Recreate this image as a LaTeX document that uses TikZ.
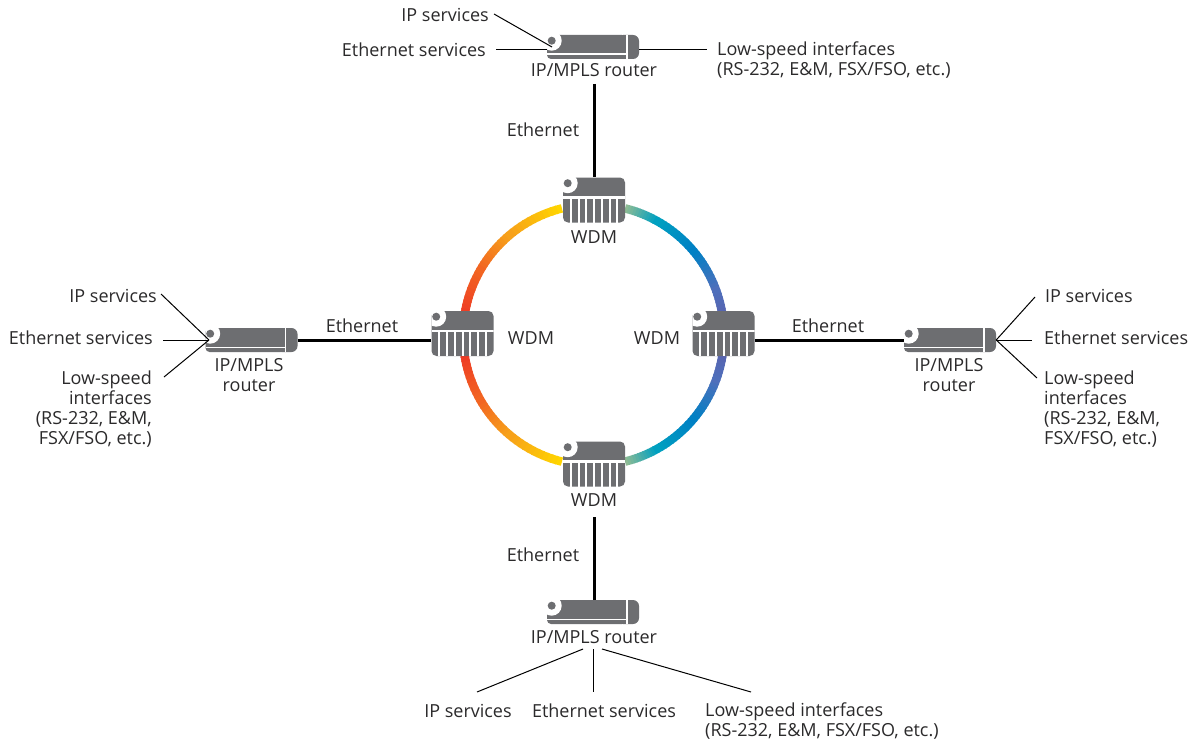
\documentclass[tikz,border=0pt]{standalone}
\usepackage{fontspec}
\setmainfont{Open Sans}
\usetikzlibrary{backgrounds}
\definecolor{icongray}{HTML}{6D6E71}
\definecolor{textgray}{HTML}{2B2A2B}
\definecolor{ringyellow}{HTML}{FFD500}
\definecolor{ringorange}{HTML}{F7A11A}
\definecolor{ringflame}{HTML}{F26522}
\definecolor{ringred}{HTML}{EE3A24}
\definecolor{ringgreen}{HTML}{8DBB94}
\definecolor{ringteal}{HTML}{00A0C0}
\definecolor{ringblue}{HTML}{0080C4}
\definecolor{ringviolet}{HTML}{4F6FBB}
\definecolor{ringpurple}{HTML}{5F5BA8}
\newcommand{\iconmark}[2]{%
	\fill[white] (#1,#2) circle (10pt);
	\fill[icongray] (#1,#2) circle (4pt);
}

\begin{document}
\begin{tikzpicture}[x=1pt,y=-1pt]
	% `routericon' and `wdmicon' are painted inside plain white nodes.
	% `lbl' is used for every text, `fibre' for the thick links.
	\tikzstyle{lbl} = [inner sep=1pt,text=textgray,font=\fontsize{18}{20}\selectfont]
	\tikzstyle{routericon} = [fill=white,inner sep=0pt,minimum width=92pt,minimum height=24pt,path picture={
		\fill[icongray,rounded corners=4pt] (-46pt,12pt) rectangle (33pt,-12pt);
		\fill[icongray,rounded corners=6pt] (24pt,12pt) rectangle (46pt,-12pt);
		\fill[white] (-46pt,-6.5pt) rectangle (33pt,-8pt);
		\fill[white] (33pt,12pt) rectangle (34.5pt,-12pt);
		\iconmark{-41.3pt}{6.3pt}
	}]
	\tikzstyle{wdmicon} = [fill=white,inner sep=0pt,minimum width=62pt,minimum height=45pt,path picture={
		\fill[icongray,rounded corners=5pt] (-31pt,22.5pt) rectangle (31pt,-22.5pt);
		\fill[white] (-31pt,4pt) rectangle (31pt,1.5pt);
		\foreach \gap in {1,...,7} {
			\fill[white] ({\gap*7.75pt-32pt},2pt) rectangle ({\gap*7.75pt-30pt},-22.5pt);
		}
		\iconmark{-26.3pt}{16.8pt}
	}]
	\tikzstyle{fibre} = [line width=3pt,black]
	\tikzstyle{stub} = [line width=1pt,black]
	\tikzstyle{ring} = [line width=8.5pt]
	%
	% The WDM nodes.
	\node[wdmicon] (wdmtop) at (594,200) {};
	\node[wdmicon] (wdmleft) at (462.5,333.5) {};
	\node[wdmicon] (wdmright) at (723.5,333.5) {};
	\node[wdmicon] (wdmbottom) at (594,464) {};
	\node[lbl] (wdmtoplabel) at (594,237) {WDM};
	\node[lbl] (wdmleftlabel) at (531,338) {WDM};
	\node[lbl] (wdmrightlabel) at (657,338) {WDM};
	\node[lbl] (wdmbottomlabel) at (594,500) {WDM};
	% The routers.
	\node[routericon] (rtop) at (593,47) {};
	\node[routericon] (rleft) at (251.5,340) {};
	\node[routericon] (rright) at (950,340) {};
	\node[routericon] (rbottom) at (593,612) {};
	\node[lbl] (rtoplabel) at (594,70) {IP/MPLS router};
	\node[lbl,align=center] (rleftlabel) at (249,375) {IP/MPLS\\router};
	\node[lbl,align=center] (rrightlabel) at (949,375) {IP/MPLS\\router};
	\node[lbl] (rbottomlabel) at (594,637) {IP/MPLS router};
	% Thick links.
	\coordinate (linktop) at (594,84);
	\coordinate (linkbottom) at (594,517);
	\draw[fibre] (linktop) -- (wdmtop.north);
	\draw[fibre] (linkbottom) -- (rbottom.north -| linkbottom);
	\draw[fibre] (rleft.east) -- (wdmleft.west |- rleft.east);
	\draw[fibre] (wdmright.east |- rright.west) -- (rright.west);
	\node[lbl] (ethtop) at (543,130) {Ethernet};
	\node[lbl] (ethleft) at (362,326) {Ethernet};
	\node[lbl] (ethright) at (828,326) {Ethernet};
	\node[lbl] (ethbottom) at (543,555) {Ethernet};
	%
	% Top services.
	\node[lbl,anchor=east] (iptop) at (490,15) {IP services};
	\node[lbl,anchor=east] (ethsvctop) at (487,50) {Ethernet services};
	\node[lbl,anchor=north west,align=left] (lowtop) at (716,41) {Low-speed interfaces\\(RS-232, E\&M, FSX/FSO, etc.)};
	\coordinate (faintop) at (552,47);
	\coordinate (lowtopend) at (707,50);
	\coordinate (ethtopend) at (496,50);
	\coordinate (iptopend) at (494,14);
	\draw[stub] (iptopend) -- (faintop);
	\draw[stub] (ethtopend) -- (rtop.west |- ethtopend);
	\draw[stub] (rtop.east |- lowtopend) -- (lowtopend);
	% Left services.
	\node[lbl,anchor=east] (ipleft) at (158,296) {IP services};
	\node[lbl,anchor=east] (ethsvcleft) at (154,338) {Ethernet services};
	\node[lbl,anchor=north east,align=right] (lowleft) at (153,370) {Low-speed\\interfaces\\(RS-232, E\&M,\\FSX/FSO, etc.)};
	\coordinate (fanleft) at (209,340);
	\coordinate (ipleftend) at (161,294);
	\coordinate (ethleftend) at (163,340);
	\coordinate (lowleftend) at (164,377);
	\foreach \stubend in {ipleftend,ethleftend,lowleftend} {
		\draw[stub] (\stubend) -- (fanleft);
	}
	% Right services.
	\node[lbl,anchor=west] (ipright) at (1044,296) {IP services};
	\node[lbl,anchor=west] (ethsvcright) at (1043,338) {Ethernet services};
	\node[lbl,anchor=north west,align=left] (lowright) at (1043,370) {Low-speed\\interfaces\\(RS-232, E\&M,\\FSX/FSO, etc.)};
	\coordinate (iprightend) at (1035,297);
	\coordinate (ethrightend) at (1032,340);
	\coordinate (lowrightend) at (1037,378);
	\foreach \stubend in {iprightend,ethrightend,lowrightend} {
		\draw[stub] (rright.east) -- (\stubend);
	}
	% Bottom services.
	\node[lbl] (ipbottom) at (468,711) {IP services};
	\node[lbl] (ethsvcbottom) at (604,711) {Ethernet services};
	\node[lbl,anchor=north west,align=left] (lowbottom) at (704,702) {Low-speed interfaces\\(RS-232, E\&M, FSX/FSO, etc.)};
	\coordinate (ipbottomend) at (477,692);
	\coordinate (ipbottomstart) at (583,649);
	\coordinate (ethbottomend) at (593,692);
	\coordinate (ethbottomstart) at (593,649);
	\coordinate (lowbottomend) at (751,692);
	\coordinate (lowbottomstart) at (602,649);
	\draw[stub] (ipbottomstart) -- (ipbottomend);
	\draw[stub] (ethbottomstart) -- (ethbottomend);
	\draw[stub] (lowbottomstart) -- (lowbottomend);
	%
	\begin{pgfonlayer}{background}
		\fill[white] (0,0) rectangle (1199,740);
		% Colour ring, one short arc at a time.
		\coordinate (ringcentre) at (593.5,335);
		\foreach \side in {1,-1} {
			\foreach \angA/\angB/\colA/\colB in {
				104/130/ringyellow/ringorange,130/150/ringorange/ringflame,150/172/ringflame/ringred,172/180/ringred/ringred,
				76/61/ringgreen/ringteal,61/40/ringteal/ringblue,40/20/ringblue/ringviolet,20/0/ringviolet/ringpurple} {
				\foreach \t in {0,...,11} {
					\pgfmathtruncatemacro{\mixval}{100*\t/11}
					\pgfmathsetmacro{\arcA}{\side*(\angA+(\angB-\angA)*\t/12)}
					\pgfmathsetmacro{\arcB}{\side*(\angA+(\angB-\angA)*(\t+1.3)/12)}
					\draw[ring,draw=\colB!\mixval!\colA] (ringcentre) ++(\arcA:130.5pt) arc (\arcA:\arcB:130.5pt);
				}
			}
		}
	\end{pgfonlayer}
	\useasboundingbox (0,0) rectangle (1199,740);
\end{tikzpicture}
\end{document}
